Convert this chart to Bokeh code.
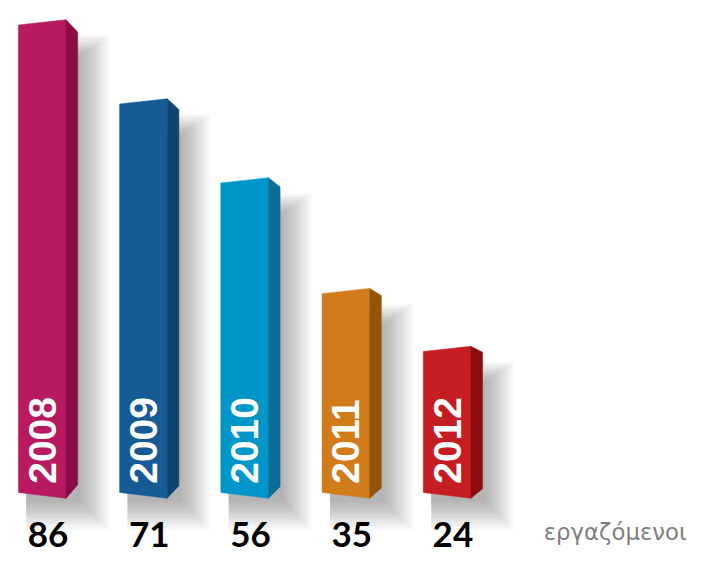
import numpy as np
from bokeh.plotting import figure
from bokeh.models import Range1d
from bokeh.embed import file_html
from bokeh.resources import INLINE
from bokeh.core.properties import value

# ---- data ----
years = ["2008", "2009", "2010", "2011", "2012"]
employees = [86, 71, 56, 35, 24]
unit_label = "εργαζόμενοι"
front_colors = ["#B71A5E", "#165B96", "#0096CA", "#D17B1B", "#C41E22"]
side_colors = ["#8A0B46", "#0D4470", "#0A6F98", "#955509", "#8D0D0E"]

# ---- layout ----
W, H = 690, 554
S = H / 570.0                     # overall scale of the drawing
X0, X1 = -0.412, 6.405
Y0, Y1 = -15.02, 90.15
PXX = W / (X1 - X0) / S           # reference pixels per x unit
PXY = H / (Y1 - Y0) / S           # reference pixels per value unit


def dx(px):
    return px / PXX


def dy(px):
    return px / PXY


def fs(px):
    return "%.1fpx" % (px * S)


BASE = -3.8  # visual floor of the bars

p = figure(width=W, height=H, x_range=Range1d(X0, X1), y_range=Range1d(Y0, Y1),
           output_backend="svg", toolbar_location=None, min_border=0,
           x_axis_type=None, y_axis_type=None)
p.grid.visible = False
p.outline_line_color = None
p.background_fill_color = "white"
p.border_fill_color = "white"

idx = list(range(len(years)))

# soft shadows
sh_xs, sh_ys = [], []
for i, v in zip(idx, employees):
    xl = i - dx(24.5)
    xr = i + dx(24.5) + dx(12)
    for k in range(16):
        g = 2.0 * k
        sh_xs.append([xl + dx(8), xr + dx(3 + g), xr + dx(3 + g), xl + dx(8)])
        sh_ys.append([v - dy(34 - 0.7 * g), v - dy(34 - 0.7 * g),
                      BASE - dy(6 + g), BASE - dy(6 + g)])
p.patches(sh_xs, sh_ys, fill_color="black", fill_alpha=0.018, line_color=None)

# bars (front + side faces)
fx, fy, sx, sy = [], [], [], []
for i, v in zip(idx, employees):
    xl = i - dx(24.5)
    xr = i + dx(24.5)
    xs_ = xr + dx(12)
    hpx = (v - BASE) * PXY
    drop = 3 + 0.02 * hpx
    rise = 8 + 0.012 * hpx
    fx.append([xl, xr, xr, xl])
    fy.append([v - dy(2.7), v + dy(2.7), BASE - dy(3), BASE + dy(3)])
    sx.append([xr, xs_, xs_, xr])
    sy.append([v + dy(2.7), v + dy(2.7) - dy(drop), BASE - dy(3) + dy(rise), BASE - dy(3)])

p.patches(fx, fy, fill_color=front_colors, line_color=front_colors, line_width=0.5)
p.patches(sx, sy, fill_color=side_colors, line_color=side_colors, line_width=0.5)

# year labels inside bars
p.text(x=idx, y=[BASE + dy(12)] * len(idx), text=years, angle=np.pi / 2,
       text_align="left", text_baseline="middle", text_color="white",
       text_font=value("Liberation Sans"), text_font_style="bold",
       text_font_size=fs(40))

# value labels
p.text(x=[i + dx(6) for i in idx], y=[BASE - dy(40.5)] * len(idx),
       text=[str(v) for v in employees],
       text_align="center", text_baseline="alphabetic", text_color="black",
       text_font=value("Lato"), text_font_style="bold", text_font_size=fs(36))

# unit label
p.text(x=[X1 - dx(4)], y=[BASE - dy(38)], text=[unit_label], text_align="right",
       text_baseline="alphabetic", text_color="#7f7f7f",
       text_font=value("DejaVu Sans"), text_font_size=fs(23.5))

open("out.html", "w").write(file_html(p, INLINE))
